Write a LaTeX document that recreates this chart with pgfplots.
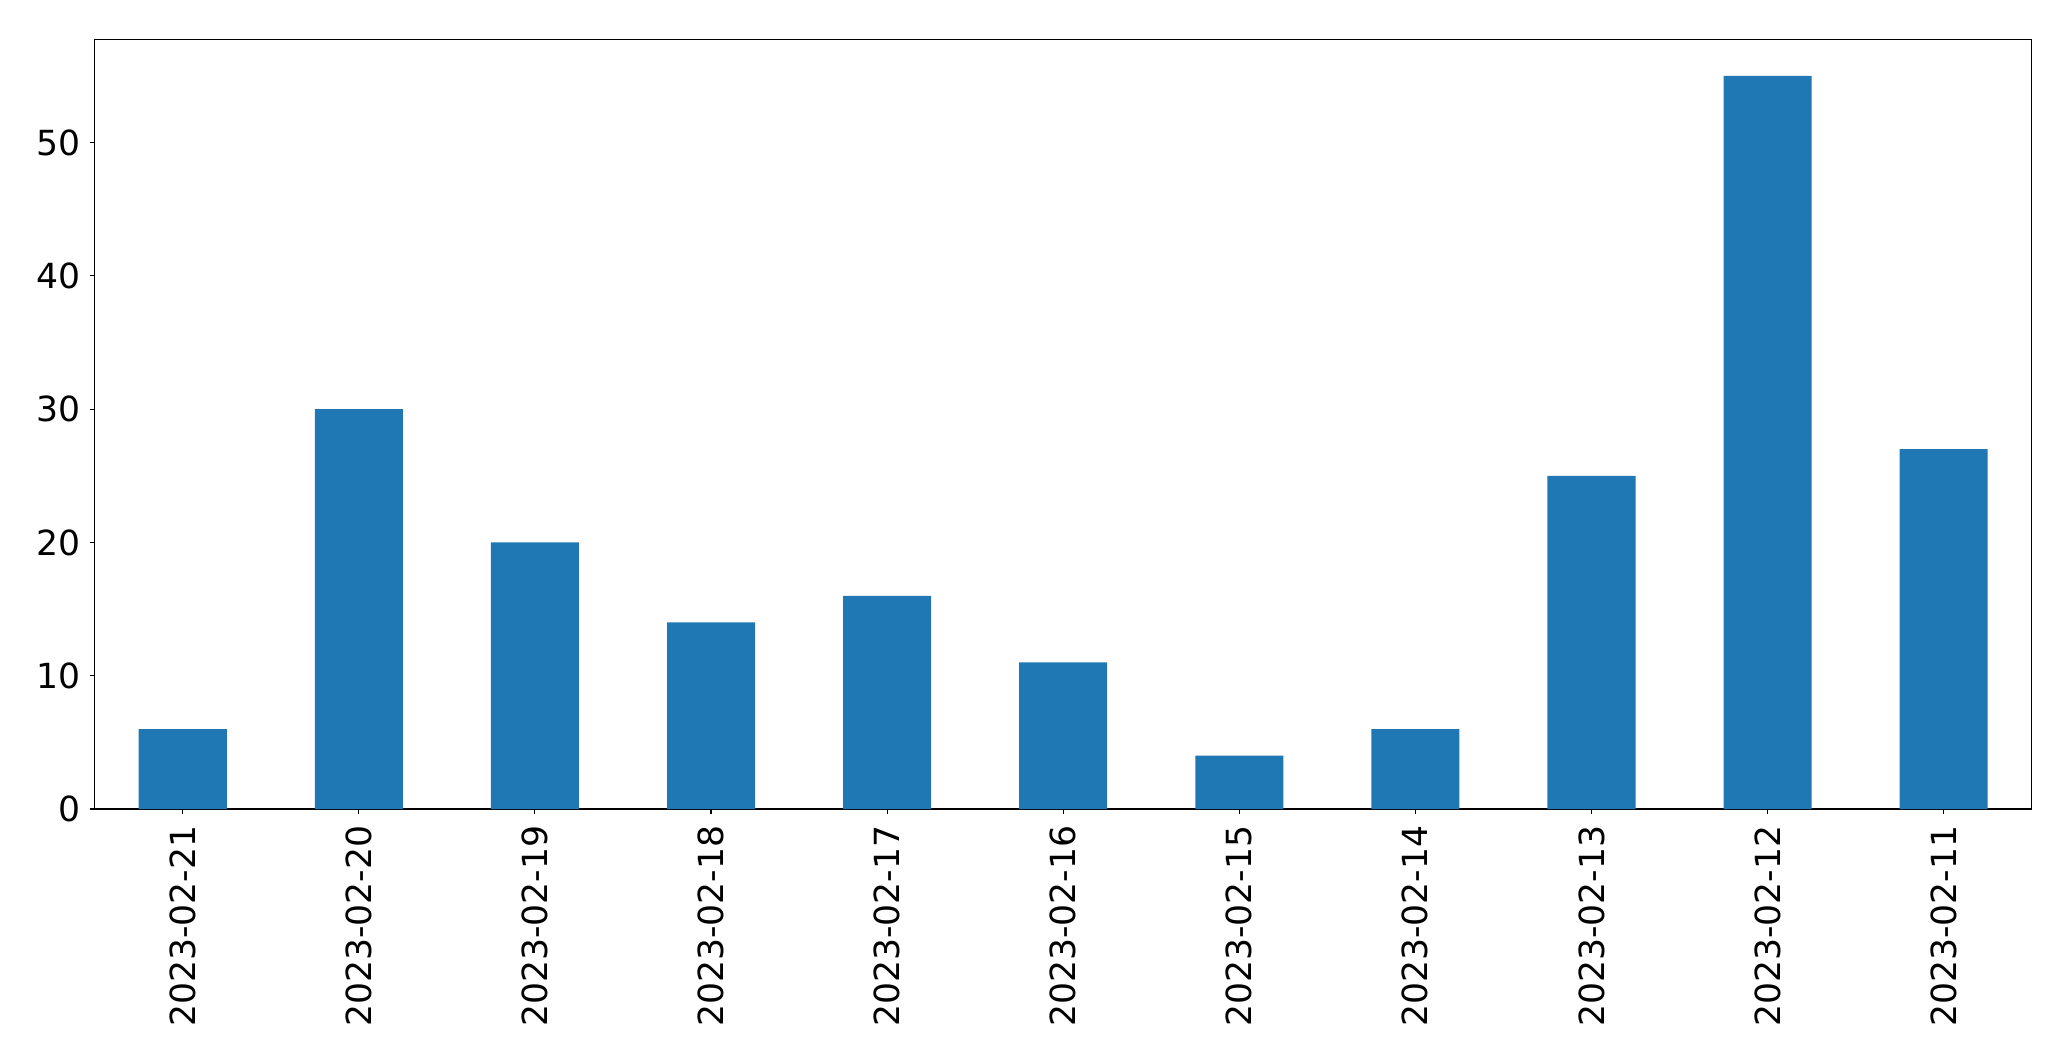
\documentclass[border=0pt]{standalone}
\usepackage{fontspec}
\setmainfont{DejaVu Sans}
\usepackage{pgfplots}
\pgfplotsset{compat=1.18}
\definecolor{mplblue}{HTML}{1F77B4}
\begin{document}
\begin{tikzpicture}
\begin{axis}[
  scale only axis,
  width=968.5pt, height=384.85pt,
  xmin=-0.5, xmax=10.5,
  ymin=0, ymax=57.75,
  axis line style={line width=0.55pt},
  tick style={line width=0.55pt, black},
  tick align=outside,
  major tick length=2.4pt,
  xtick={0,...,10},
  xticklabels={2023-02-21,2023-02-20,2023-02-19,2023-02-18,2023-02-17,2023-02-16,2023-02-15,2023-02-14,2023-02-13,2023-02-12,2023-02-11},
  ytick={0,10,20,30,40,50},
  xtick pos=bottom, ytick pos=left,
  /pgf/number format/assume math mode=true,
  ticklabel style={font=\fontsize{17.3}{21}\selectfont, inner sep=0pt},
  xticklabel style={rotate=90, anchor=east},
  xticklabel shift=5.8pt,
  yticklabel shift=4.6pt,
]
\addplot[ybar, bar width=0.5, fill=mplblue, draw=none] coordinates {
  (0,6) (1,30) (2,20) (3,14) (4,16) (5,11) (6,4) (7,6) (8,25) (9,55) (10,27)
};
\end{axis}
\path (current axis.south west) ++(-47.35pt,-126pt) rectangle ([shift={(19.65pt,19.65pt)}]current axis.north east);
\end{tikzpicture}
\end{document}
